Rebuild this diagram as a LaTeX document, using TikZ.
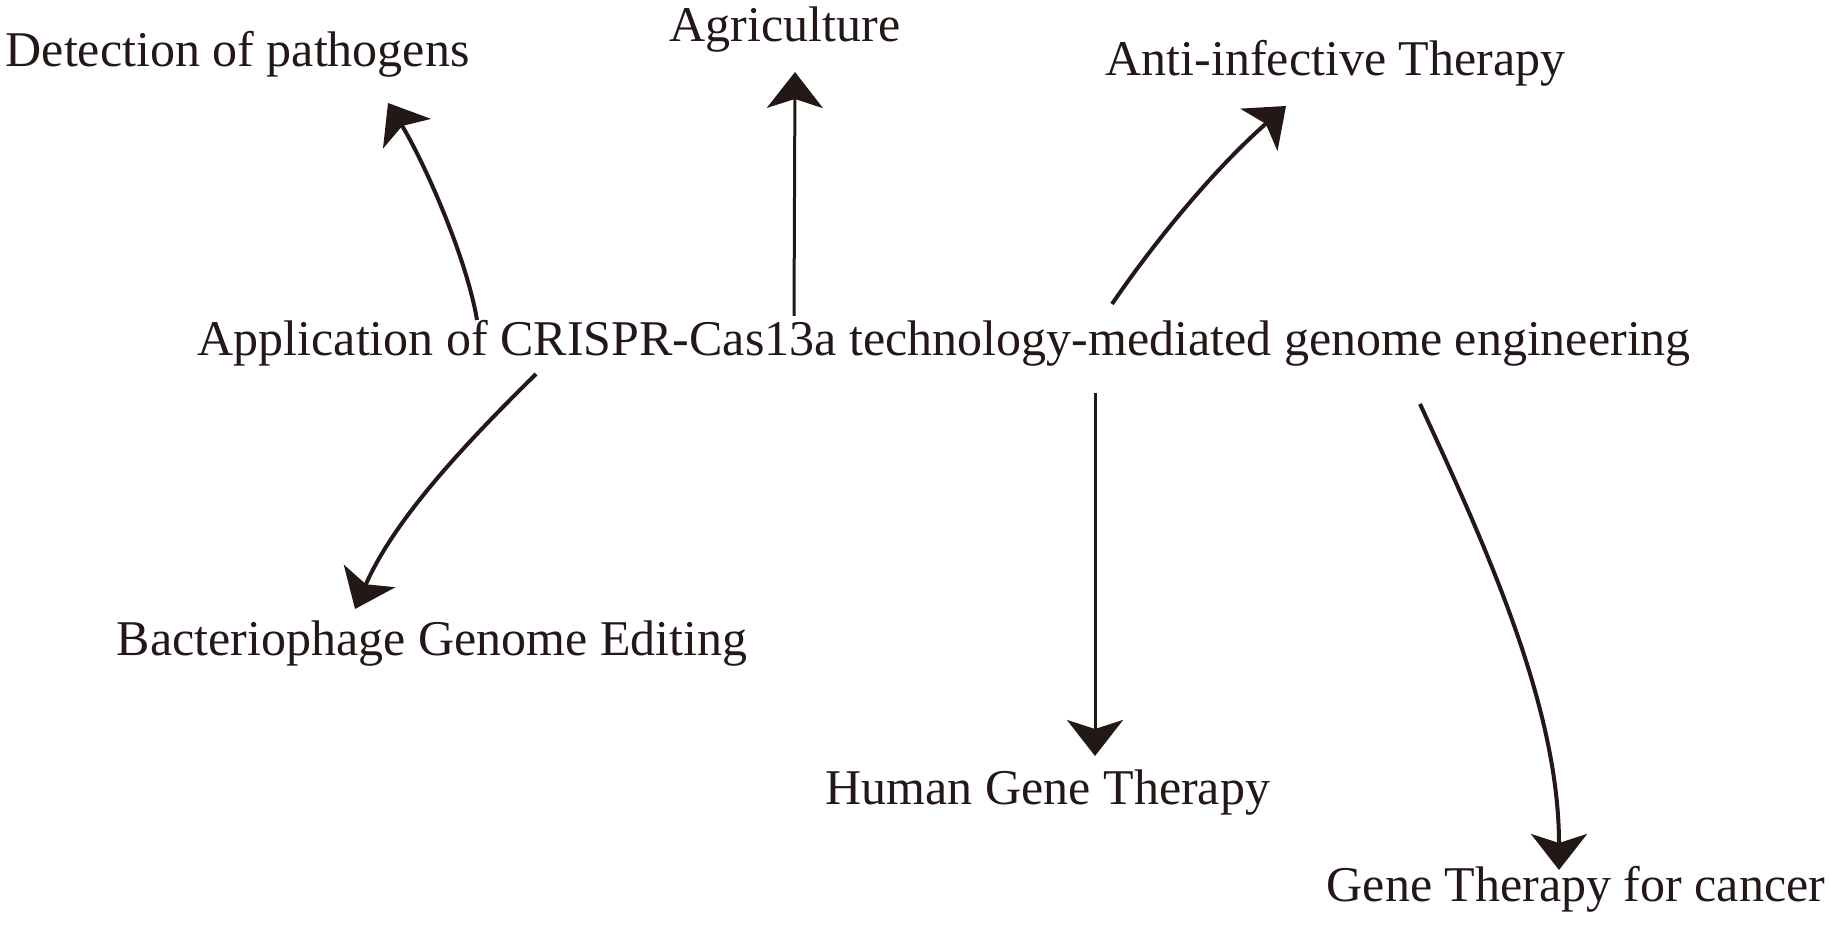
\documentclass[tikz,border=0pt]{standalone}
\usepackage{fontspec}
\setmainfont{Liberation Serif}
\usepackage{xcolor}
\usetikzlibrary{arrows.meta,positioning,calc}
\definecolor{ink}{HTML}{231815}

\begin{document}
\begin{tikzpicture}[
    x=0.1mm, y=-0.1mm,
    topic/.style={anchor=base west, inner sep=0pt, text=ink, font=\fontsize{14.23pt}{17pt}\selectfont},
    arrow/.style={-{Stealth[length=3.6mm, width=5.6mm, inset=0.9mm]}, draw=ink, line width=0.4mm},
    straight/.style={arrow, line width=0.3mm}
]
    \useasboundingbox (0,0) rectangle (1829,927);

    % Centre text
    \node[topic] (app) at (197,356) {Application of CRISPR-Cas13a technology-mediated genome engineering};

    % Applications around it
    \node[topic] (detect) at (5,67) {Detection of pathogens};
    \node[topic] (agri) at (669,42) {Agriculture};
    \node[topic] (anti) at (1105,76) {Anti-infective Therapy};
    \node[topic] (phage) at (116,656) {Bacteriophage Genome Editing};
    \node[topic] (human) at (825,805) {Human Gene Therapy};
    \node[topic] (cancer) at (1326,901) {Gene Therapy for cancer};

    % Arrow ends (out of the centre text, in to each topic)
    \coordinate (outDetect) at (477,320);
    \coordinate (outAgri) at (794,316);
    \coordinate (outAnti) at (1112,304);
    \coordinate (outPhage) at (536,374);
    \coordinate (outHuman) at (1095,393);
    \coordinate (outCancer) at (1420,404);
    \coordinate (inDetect) at (388,103);
    \coordinate (inAgri) at (795,72);
    \coordinate (inAnti) at (1286,106);
    \coordinate (inPhage) at (355,609);
    \coordinate (inHuman) at (1095,756);
    \coordinate (inCancer) at (1559,870);

    % Arrows
    \draw[arrow] (outDetect) .. controls (466,255) and (422,158) .. (inDetect);
    \draw[straight] (outAgri) -- (inAgri);
    \draw[arrow] (outAnti) .. controls (1162,231) and (1220,164) .. (inAnti);
    \draw[arrow] (outPhage) .. controls (466,443) and (395,518) .. (inPhage);
    \draw[straight] (outHuman) -- (inHuman);
    \draw[arrow] (outCancer) .. controls (1488,551) and (1559,708) .. (inCancer);
\end{tikzpicture}
\end{document}
